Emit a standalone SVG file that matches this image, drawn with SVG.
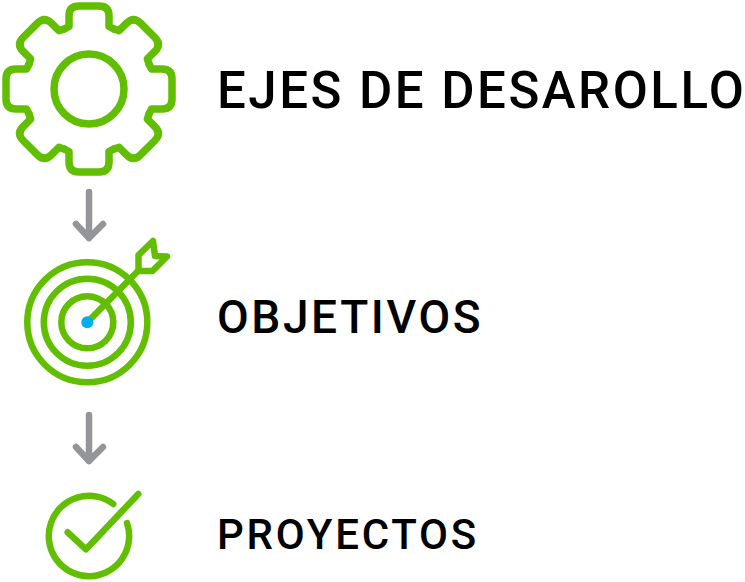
<svg xmlns="http://www.w3.org/2000/svg" width="745" height="582" viewBox="0 0 745 582">
<style>
.g{fill:none;stroke:#62BE00;stroke-width:7.5;stroke-linecap:round;stroke-linejoin:round}
.t{stroke-width:6.5}
.a{fill:none;stroke:#939598;stroke-width:6.5;stroke-linecap:round;stroke-linejoin:round}
text{font-family:Roboto,"Liberation Sans",sans-serif;font-weight:500;fill:#000}
</style>
<defs>
<path id="tooth" d="M-24.9 -60L-20 -62.5L-20 -73Q-20 -83 -10 -83L10 -83Q20 -83 20 -73L20 -62.5L24.9 -60"/>
</defs>
<rect width="745" height="582" fill="#fff"/>
<g id="connectors">
<path class="a" d="M89 192V238M76 224L89 238L103 224"/>
<path class="a" d="M89 415V461M76 447L89 461L103 447"/>
</g>
<g id="node-ejes">
<g class="g" transform="translate(89 89)">
<use href="#tooth"/>
<use href="#tooth" transform="rotate(45)"/>
<use href="#tooth" transform="rotate(90)"/>
<use href="#tooth" transform="rotate(135)"/>
<use href="#tooth" transform="rotate(180)"/>
<use href="#tooth" transform="rotate(225)"/>
<use href="#tooth" transform="rotate(270)"/>
<use href="#tooth" transform="rotate(315)"/>
<circle r="35"/>
</g>
<text x="217" y="108" font-size="51" letter-spacing="2.5">EJES DE DESAROLLO</text>
</g>
<g id="node-objetivos">
<g class="g t">
<circle cx="87.3" cy="322.3" r="60"/>
<circle cx="87.3" cy="322.3" r="43.5"/>
<circle cx="87.3" cy="322.3" r="26"/>
<path d="M87.3 322.3L138 271"/>
<path d="M138.5 255L153 241L155 256L167 256.5L152.5 271L138.5 271Z"/>
</g>
<circle cx="87.3" cy="322.3" r="6" fill="#00AEEF"/>
<text x="217" y="333" font-size="46" letter-spacing="2.6">OBJETIVOS</text>
</g>
<g id="node-proyectos">
<g class="g t">
<path d="M113.3 504A40.2 40.2 0 1 0 127 523"/>
<path d="M67.7 532.3L86 549.3L138.3 494"/>
</g>
<text x="217" y="549" font-size="42" letter-spacing="2.8">PROYECTOS</text>
</g>
</svg>
